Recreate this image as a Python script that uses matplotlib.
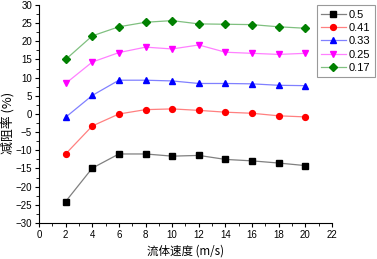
import matplotlib
matplotlib.use("Agg")
import matplotlib.pyplot as plt
from matplotlib.ticker import MultipleLocator

plt.rcParams['font.family'] = ['Liberation Sans', 'Noto Sans CJK SC', 'DejaVu Sans']

speed = [2, 4, 6, 8, 10, 12, 14, 16, 18, 20]
labels = ['0.5', '0.41', '0.33', '0.25', '0.17']
s_050 = [-24.1, -14.9, -11.0, -11.0, -11.6, -11.4, -12.5, -12.9, -13.5, -14.2]
s_041 = [-11.0, -3.3, 0.0, 1.2, 1.4, 1.0, 0.5, 0.2, -0.5, -0.8]
s_033 = [-0.9, 5.1, 9.3, 9.3, 9.1, 8.4, 8.4, 8.3, 7.9, 7.8]
s_025 = [8.4, 14.3, 16.9, 18.4, 17.9, 19.0, 17.0, 16.7, 16.4, 16.7]
s_017 = [15.0, 21.5, 24.0, 25.25, 25.7, 24.8, 24.7, 24.6, 24.0, 23.6]

series = [s_050, s_041, s_033, s_025, s_017]
marker_colors = ['#000000', '#ff0000', '#0000ff', '#ff00ff', '#008000']
line_colors = ['#808080', '#ff8080', '#8080ff', '#ff80ff', '#80c080']
markers = ['s', 'o', '^', 'v', 'D']

fig = plt.figure(figsize=(3.77, 2.59), dpi=100)
ax = fig.add_axes([0.1034, 0.139, 0.7772, 0.8417])

for ys, lab, mc, lc, mk in zip(series, labels, marker_colors, line_colors, markers):
    ax.plot(speed, ys, color=lc, lw=0.9, marker=mk, markersize=4.2,
            markerfacecolor=mc, markeredgecolor=mc, label=lab)

ax.set_xlim(0, 22)
ax.set_ylim(-30, 30)
ax.xaxis.set_major_locator(MultipleLocator(2))
ax.xaxis.set_minor_locator(MultipleLocator(1))
ax.yaxis.set_major_locator(MultipleLocator(5))
ax.yaxis.set_minor_locator(MultipleLocator(2.5))
ax.spines['top'].set_visible(False)
ax.spines['right'].set_visible(False)
for sp in ['left', 'bottom']:
    ax.spines[sp].set_linewidth(0.8)
ax.tick_params(which='major', direction='out', length=3, width=0.8, labelsize=7, pad=2)
ax.tick_params(which='minor', direction='out', length=2, width=0.6)

ax.set_xlabel('流体速度 (m/s)', fontsize=8.3,
              fontfamily=['Noto Sans CJK SC', 'Liberation Sans'])
ax.xaxis.set_label_coords(0.5, -0.1)
ax.set_ylabel('减阻率 (%)', fontsize=9.3,
              fontfamily=['Noto Sans CJK SC', 'Liberation Sans'])
ax.yaxis.set_label_coords(-0.082, 0.46)

leg = fig.legend(loc='upper left', bbox_to_anchor=(0.84, 0.98), fontsize=8,
                 frameon=True, fancybox=False, handlelength=2.2,
                 handletextpad=0.3, borderpad=0.4, labelspacing=0.3,
                 borderaxespad=0)
leg.get_frame().set_edgecolor('#808080')
leg.get_frame().set_linewidth(0.8)

fig.savefig('out.png', dpi=100)
